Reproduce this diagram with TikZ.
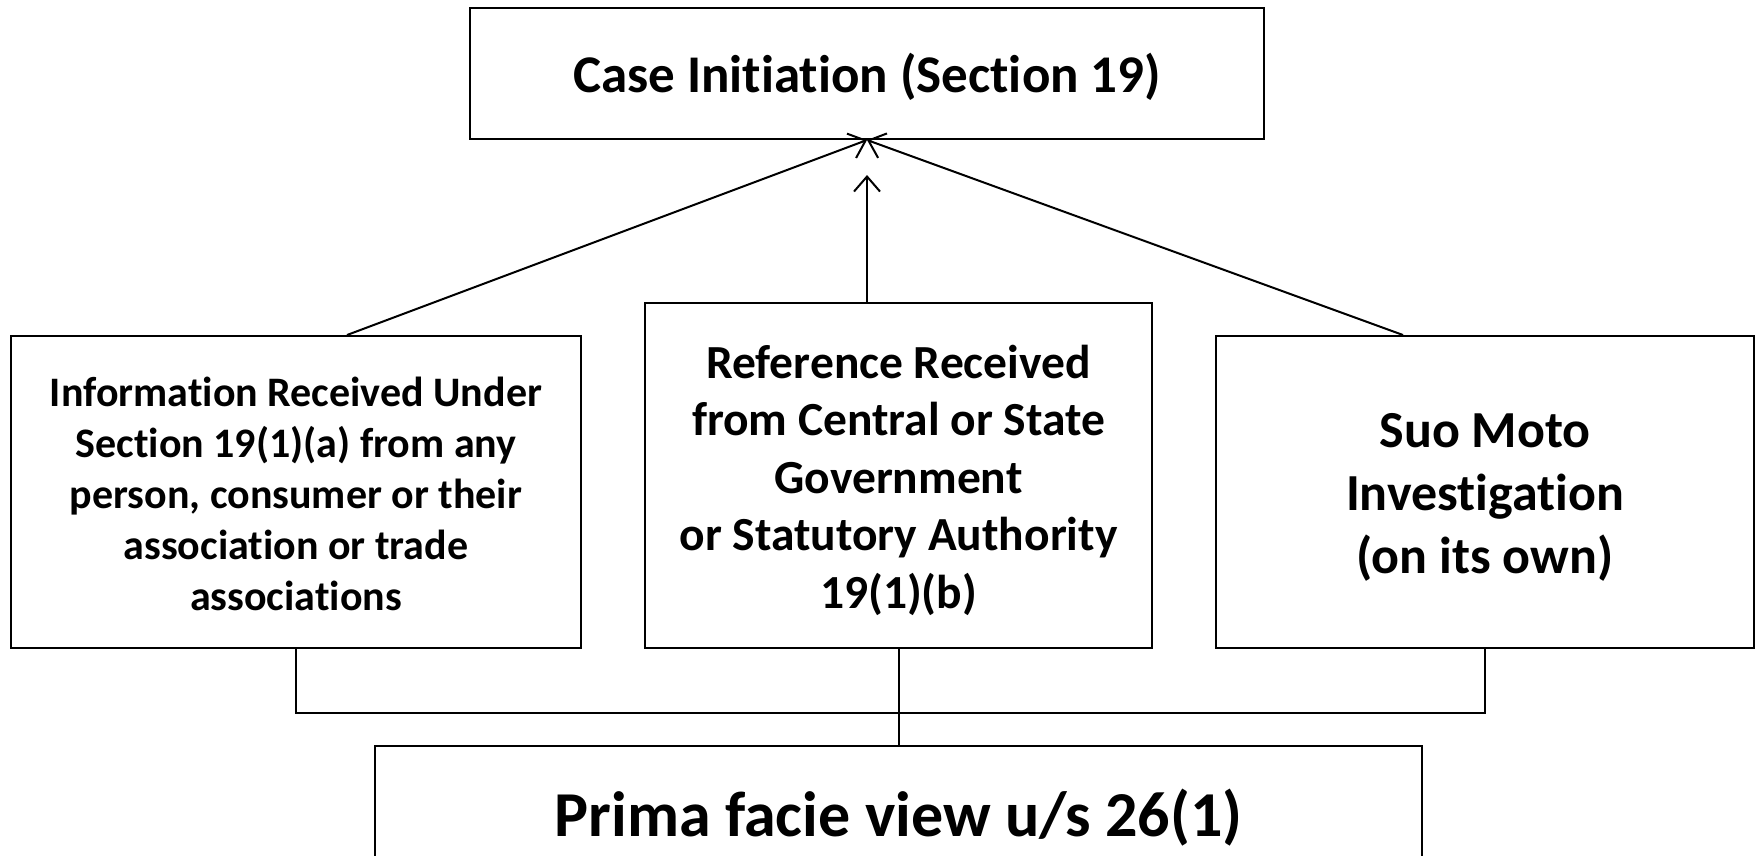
\documentclass[tikz,border=0pt]{standalone}
\usepackage{fontspec}
\setmainfont{Carlito}[Ligatures={NoCommon}]
\usetikzlibrary{arrows.meta}
\begin{document}
\begin{tikzpicture}[x=1pt,y=-1pt,
  box/.style={draw=black,line width=2pt,fill=white,rectangle,inner sep=0pt},
  txt/.style={inner sep=0pt,align=center},
  conn/.style={line width=2pt,draw=black},
  arr/.style={conn,-{Straight Barb[length=15pt,width=26pt,line width=2pt]}}]
\useasboundingbox (0,0) rectangle (1760,855);
\clip (0,0) rectangle (1760,855);
\fill[white] (0,0) rectangle (1760,855);
\node[box,minimum width=794pt,minimum height=131pt] (top) at (867,73.5) {};
\node[txt,font=\bfseries\fontsize{53pt}{64pt}\selectfont] (toptxt) at (867,77) {Case Initiation (Section 19)};
\node[box,minimum width=570pt,minimum height=312pt] (lft) at (296,492) {};
\node[txt,font=\bfseries\fontsize{42pt}{51pt}\selectfont] (lfttxt) at (296,494) {Information Received Under\\Section 19(1)(a) from any\\person, consumer or their\\association or trade\\associations};
\node[box,minimum width=507pt,minimum height=345pt] (mid) at (898.5,475.5) {};
\node[txt,font=\bfseries\fontsize{47.5pt}{57.5pt}\selectfont] (midtxt) at (898.5,480) {Reference Received\\from Central or State\\Government\\or Statutory Authority\\19(1)(b)};
\node[box,minimum width=538pt,minimum height=312pt] (rgt) at (1485,492) {};
\node[txt,font=\bfseries\fontsize{52pt}{63pt}\selectfont] (rgttxt) at (1485,497) {Suo Moto\\Investigation\\(on its own)};
\node[box,minimum width=1047pt,minimum height=160pt] (bot) at (898.5,826) {};
\node[txt,font=\bfseries\fontsize{64pt}{77pt}\selectfont] (bottxt) at (898.5,818) {Prima facie view u/s 26(1)};
\coordinate (midtip) at ([yshift=-35pt]top.south);
\draw[arr] ([xshift=51pt]lft.north) -- (top.south);
\draw[arr] ([xshift=-82pt]rgt.north) -- (top.south);
\draw[arr] (mid.north -| midtip) -- (midtip);
\draw[conn] (lft.south) -- (lft.south |- 0,713) -- (rgt.south |- 0,713) -- (rgt.south);
\draw[conn] (mid.south) -- (bot.north);
\end{tikzpicture}
\end{document}
